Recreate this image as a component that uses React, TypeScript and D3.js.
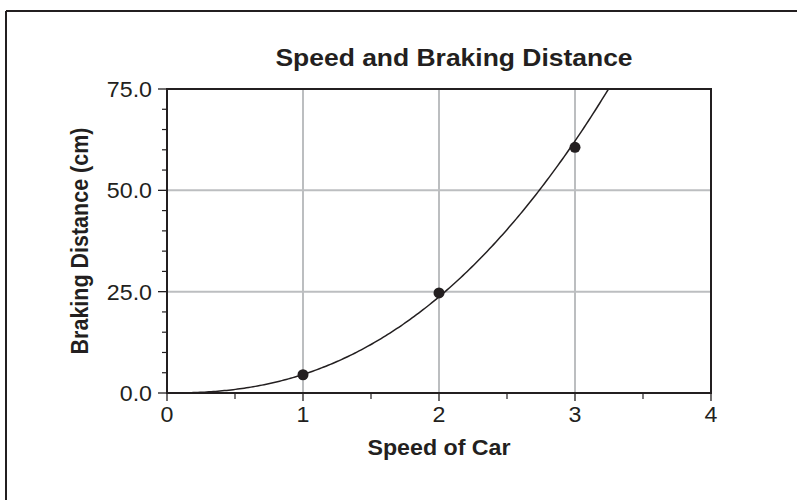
import { line, range, scaleLinear } from 'd3'

const WIDTH = 797
const HEIGHT = 500
const MARGINS = { top: 89, right: 86, bottom: 107, left: 167 }
// the reference is a little wider than tall, so text gets a slight horizontal stretch
const STRETCH = 1.08

const TITLE = 'Speed and Braking Distance'
const X_LABEL = 'Speed of Car'
const Y_LABEL = 'Braking Distance (cm)'

const speeds = [1, 2, 3]
const distances = [4.5, 24.7, 60.6]
const xTicks = [0, 1, 2, 3, 4]
const xMinorTicks = [0.5, 1.5, 2.5, 3.5]
const yTicks = [0, 25, 50, 75]
const yMinorTicks = [5, 10, 15, 20, 30, 35, 40, 45, 55, 60, 65, 70]

const FONT = '"Liberation Sans", Arial, sans-serif'
const INK = '#231f20'
const GRID = '#bcbec0'

// power trendline y = a * x^b, least squares in log space
const fitPower = (xs: number[], ys: number[]) => {
  const lx = xs.map(Math.log)
  const ly = ys.map(Math.log)
  const mx = lx.reduce((s, v) => s + v, 0) / lx.length
  const my = ly.reduce((s, v) => s + v, 0) / ly.length
  let sxy = 0
  let sxx = 0
  lx.forEach((v, i) => {
    sxy += (v - mx) * (ly[i] - my)
    sxx += (v - mx) * (v - mx)
  })
  const b = sxy / sxx
  const a = Math.exp(my - b * mx)
  return { a, b }
}

const Label = ({
  x,
  y,
  size,
  bold,
  anchor = 'middle',
  children,
}: {
  x: number
  y: number
  size: number
  bold?: boolean
  anchor?: string
  children: React.ReactNode
}) => (
  <text
    transform={`translate(${x}, ${y}) scale(${STRETCH}, 1)`}
    textAnchor={anchor}
    fontSize={size}
    fontWeight={bold ? 'bold' : 'normal'}
    fill={INK}
  >
    {children}
  </text>
)

export default function App() {
  const innerW = WIDTH - MARGINS.left - MARGINS.right
  const innerH = HEIGHT - MARGINS.top - MARGINS.bottom
  const x = scaleLinear().domain([0, 4]).range([MARGINS.left, MARGINS.left + innerW])
  const y = scaleLinear().domain([0, 75]).range([MARGINS.top + innerH, MARGINS.top])

  const { a, b } = fitPower(speeds, distances)
  const xEnd = Math.pow(75 / a, 1 / b)
  const curvePts = range(0, 201).map((i) => {
    const sx = (xEnd * i) / 200
    return [sx, a * Math.pow(sx, b)] as [number, number]
  })
  const curve = line<[number, number]>()
    .x((d) => x(d[0]))
    .y((d) => y(d[1]))(curvePts)

  const x0 = x(0)
  const y0 = y(0)

  return (
    <svg
      width={WIDTH}
      height={HEIGHT}
      style={{ position: 'absolute', left: 0, top: 0, background: '#fff' }}
      fontFamily={FONT}
    >
      <rect width={WIDTH} height={HEIGHT} fill="#fff" />
      {/* page frame: top and left edges only */}
      <line x1={6} y1={11} x2={WIDTH} y2={11} stroke={INK} strokeWidth={2} />
      <line x1={6} y1={11} x2={6} y2={HEIGHT} stroke={INK} strokeWidth={2} />

      <Label x={454} y={66} size={24.5} bold>
        {TITLE}
      </Label>

      {/* grid */}
      {xTicks.slice(1, -1).map((t) => (
        <line key={`gx${t}`} x1={x(t)} x2={x(t)} y1={y(75)} y2={y0} stroke={GRID} strokeWidth={2} />
      ))}
      {yTicks.slice(1, -1).map((t) => (
        <line key={`gy${t}`} x1={x0} x2={x(4)} y1={y(t)} y2={y(t)} stroke={GRID} strokeWidth={2} />
      ))}

      {/* ticks */}
      {yTicks.map((t) => (
        <line key={`ty${t}`} x1={x0 - 9} x2={x0} y1={y(t)} y2={y(t)} stroke={INK} strokeWidth={1.3} />
      ))}
      {yMinorTicks.map((t) => (
        <line key={`my${t}`} x1={x0 - 5} x2={x0} y1={y(t)} y2={y(t)} stroke={INK} strokeWidth={1.2} />
      ))}
      {xTicks.map((t) => (
        <line key={`tx${t}`} x1={x(t)} x2={x(t)} y1={y0} y2={y0 + 8} stroke={INK} strokeWidth={1.3} />
      ))}
      {xMinorTicks.map((t) => (
        <line key={`mx${t}`} x1={x(t)} x2={x(t)} y1={y0} y2={y0 + 6} stroke={INK} strokeWidth={1.2} />
      ))}

      {/* plot frame */}
      <rect
        x={x0}
        y={y(75)}
        width={innerW}
        height={innerH}
        fill="none"
        stroke={INK}
        strokeWidth={2}
      />

      {/* trendline and points */}
      <path d={curve ?? ''} fill="none" stroke={INK} strokeWidth={1.5} />
      {speeds.map((s, i) => (
        <circle key={s} cx={x(s)} cy={y(distances[i])} r={5.5} fill={INK} />
      ))}

      {/* tick labels */}
      {yTicks.map((t) => (
        <Label key={`ly${t}`} x={x0 - 15} y={y(t) + 8} size={21.5} anchor="end">
          {t.toFixed(1)}
        </Label>
      ))}
      {xTicks.map((t) => (
        <Label key={`lx${t}`} x={x(t)} y={y0 + 29} size={21.5}>
          {t}
        </Label>
      ))}

      <Label x={x(2)} y={455} size={21.5} bold>
        {X_LABEL}
      </Label>
      <text
        transform={`translate(88, ${y(37.5)}) scale(${STRETCH}, 1) rotate(-90)`}
        textAnchor="middle"
        fontSize={21.5}
        fontWeight="bold"
        fill={INK}
      >
        {Y_LABEL}
      </text>
    </svg>
  )
}
